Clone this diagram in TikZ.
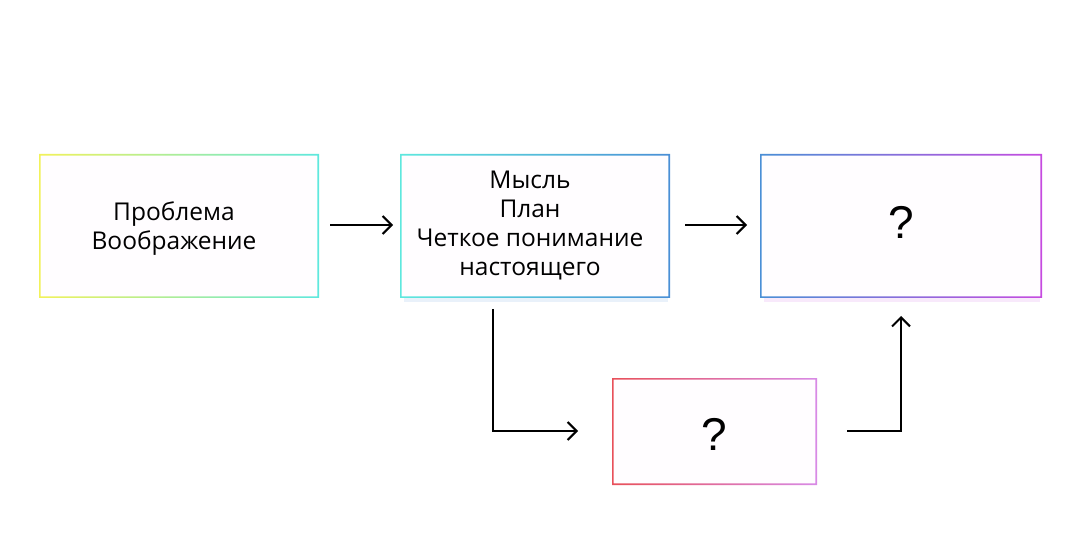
\documentclass[tikz,border=0pt]{standalone}
\usepackage{fontspec}
\setmainfont{Open Sans}
\newfontfamily\qfont{Liberation Sans}
\usetikzlibrary{arrows.meta}
\definecolor{cyellow}{HTML}{F2F25A}
\definecolor{ccyan}{HTML}{5EE8DE}
\definecolor{cblue}{HTML}{4A8FD6}
\definecolor{cmag}{HTML}{C64BE0}
\definecolor{cred}{HTML}{E8505A}
\definecolor{cpink}{HTML}{D88AE6}
\definecolor{boxfill}{HTML}{FFFDFF}
\begin{document}
\begin{tikzpicture}[x=1pt,y=-1pt,
  boxnode/.style={inner sep=0pt, outer sep=0pt, align=center, text=black, font=\fontsize{24.5}{29}\selectfont},
  qnode/.style={inner sep=0pt, font=\qfont\fontsize{46}{50}\selectfont},
  conn/.style={line width=2pt, -{Straight Barb[length=9pt,width=18pt]}}
]
\useasboundingbox (0,0) rectangle (1080,540);
\fill[white] (0,0) rectangle (1080,540);
% glow shadows
\fill[cblue!12] (404,297) rectangle (668,302);
\fill[cmag!12] (764,297) rectangle (1040,302);
% box fills
\fill[boxfill] (40,155) rectangle (318,297);
\fill[boxfill] (401,155) rectangle (669,297);
\fill[boxfill] (761,155) rectangle (1041,297);
\fill[boxfill] (613,379) rectangle (816,484);
% gradient frames
\shade[left color=cyellow, right color=ccyan, even odd rule]
  (39,154) rectangle (319,298) (40.6,155.6) rectangle (317.4,296.4);
\shade[left color=ccyan, right color=cblue, even odd rule]
  (400,154) rectangle (670,298) (401.6,155.6) rectangle (668.4,296.4);
\shade[left color=cblue, right color=cmag, even odd rule]
  (760,154) rectangle (1042,298) (761.6,155.6) rectangle (1040.4,296.4);
\shade[left color=cred, right color=cpink, even odd rule]
  (612,378) rectangle (817,485) (613.6,379.6) rectangle (815.4,483.4);
% nodes
\node[boxnode, minimum width=278pt, minimum height=142pt] (b1) at (179,226) {};
\node[boxnode] (t1) at (174,229) {Проблема\\Воображение};
\node[boxnode, minimum width=268pt, minimum height=142pt] (b2) at (535,226) {};
\node[boxnode] (t2) at (530,226) {Мысль\\План\\Четкое понимание\\настоящего};
\node[boxnode, minimum width=280pt, minimum height=142pt] (b3) at (901,226) {};
\node[qnode] (q3) at (901,222) {?};
\node[boxnode, minimum width=203pt, minimum height=105pt] (b4) at (714.5,431.5) {};
\node[qnode] (q4) at (714,434) {?};
% connector end points
\coordinate (a1s) at (330,225);
\coordinate (a1e) at (393,225);
\coordinate (a2s) at (685,225);
\coordinate (a2e) at (747,225);
\coordinate (a3s) at (493,309);
\coordinate (a3c) at (493,431);
\coordinate (a3e) at (578,431);
\coordinate (a4s) at (847,431);
\coordinate (a4c) at (901,431);
\coordinate (a4e) at (901,316);
\draw[conn] (a1s) -- (a1e);
\draw[conn] (a2s) -- (a2e);
\draw[conn] (a3s) -- (a3c) -- (a3e);
\draw[conn] (a4s) -- (a4c) -- (a4e);
\end{tikzpicture}
\end{document}
